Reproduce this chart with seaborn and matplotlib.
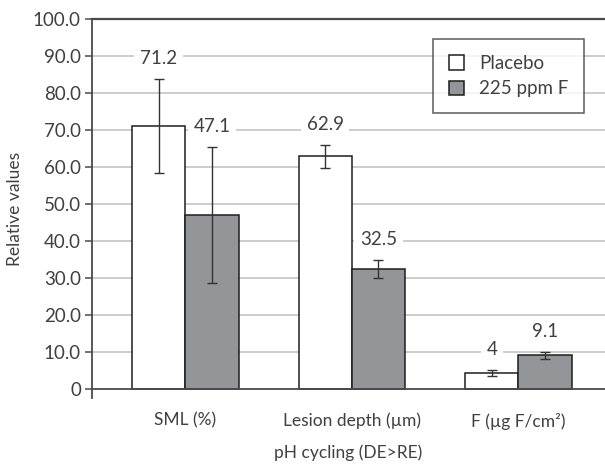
import pandas as pd
import seaborn as sns
import matplotlib.pyplot as plt

# data
measures = ['SML (%)', 'Lesion depth (\u00b5m)', 'F (\u00b5g F/cm\u00b2)']
groups = ['Placebo', '225 ppm F']
placebo = [71.2, 62.9, 4.3]
fluoride = [47.1, 32.5, 9.1]
placebo_err = [12.7, 3.1, 0.8]
fluoride_err = [18.4, 2.4, 1.0]
placebo_lbl = ['71.2', '62.9', '4']
fluoride_lbl = ['47.1', '32.5', '9.1']
yticks = [0, 10, 20, 30, 40, 50, 60, 70, 80, 90, 100]
ytick_lbl = ['0'] + ['%.1f' % t for t in yticks[1:]]

df = pd.DataFrame({
    'measure': measures * 2,
    'group': [groups[0]] * 3 + [groups[1]] * 3,
    'value': placebo + fluoride,
})

txt = '#404040'
sns.set_style('white')
plt.rcParams['font.family'] = ['Lato', 'DejaVu Sans']
plt.rcParams['text.color'] = txt

fig = plt.figure(figsize=(6.05, 4.66), dpi=100)
ax = fig.add_axes([92/605, 1-398.25/466, 513/605, 379.25/466])

sns.barplot(data=df, x='measure', y='value', hue='group', hue_order=groups,
            palette=['white', '#939598'], edgecolor='#1e1e1e', linewidth=1.1,
            width=0.64, errorbar=None, saturation=1, ax=ax, zorder=3)

errs = [placebo_err, fluoride_err]
lbls = [placebo_lbl, fluoride_lbl]
vals = [placebo, fluoride]
bar_conts = list(ax.containers)
for i, cont in enumerate(bar_conts):
    for j, bar in enumerate(cont.patches):
        xc = bar.get_x() + bar.get_width()/2
        ax.errorbar(xc, vals[i][j], yerr=errs[i][j], fmt='none', ecolor='#333333',
                    elinewidth=1, capsize=3.5, capthick=1, zorder=4)
        ax.text(xc, vals[i][j] + errs[i][j] + 5.5, lbls[i][j], ha='center', va='center',
                fontsize=13.5, color=txt, zorder=5,
                bbox=dict(facecolor='white', edgecolor='none', pad=4))

ax.set_xlim(-0.56, 2.52)
ax.set_ylim(-2.5, 100)
ax.set_yticks(yticks)
ax.set_yticklabels(ytick_lbl)
for t in yticks[1:-1]:
    ax.axhline(t, color='#c8c8c8', lw=1.3, zorder=1)

ax.spines['right'].set_visible(False)
ax.spines['top'].set_color('#4a4a4a')
ax.spines['top'].set_linewidth(1.6)
ax.spines['left'].set_color('#4a4a4a')
ax.spines['left'].set_linewidth(1.3)
ax.spines['bottom'].set_position(('data', 0))
ax.spines['bottom'].set_color('#4a4a4a')
ax.spines['bottom'].set_linewidth(1.3)
ax.spines['bottom'].set_zorder(6)

ax.tick_params(axis='y', left=True, length=5, width=1.1, color='#4a4a4a',
               labelsize=13.5, labelcolor=txt, pad=3)
ax.tick_params(axis='x', bottom=False, length=0, labelsize=12.5, labelcolor=txt, pad=17)

ax.set_ylabel('Relative values', fontsize=12.5, color=txt, labelpad=7)
ax.set_xlabel('pH cycling (DE>RE)', fontsize=12.5, color=txt, labelpad=11)

leg = ax.legend(loc='upper left', bbox_to_anchor=(0.665, 0.947), borderaxespad=0,
                frameon=True, fancybox=False, edgecolor='#333333', fontsize=13.5,
                handlelength=0.8, handleheight=0.8, handletextpad=0.8,
                borderpad=0.85, labelspacing=0.45, title=None)
leg.get_frame().set_linewidth(1.1)

fig.savefig('out.png', dpi=100)
